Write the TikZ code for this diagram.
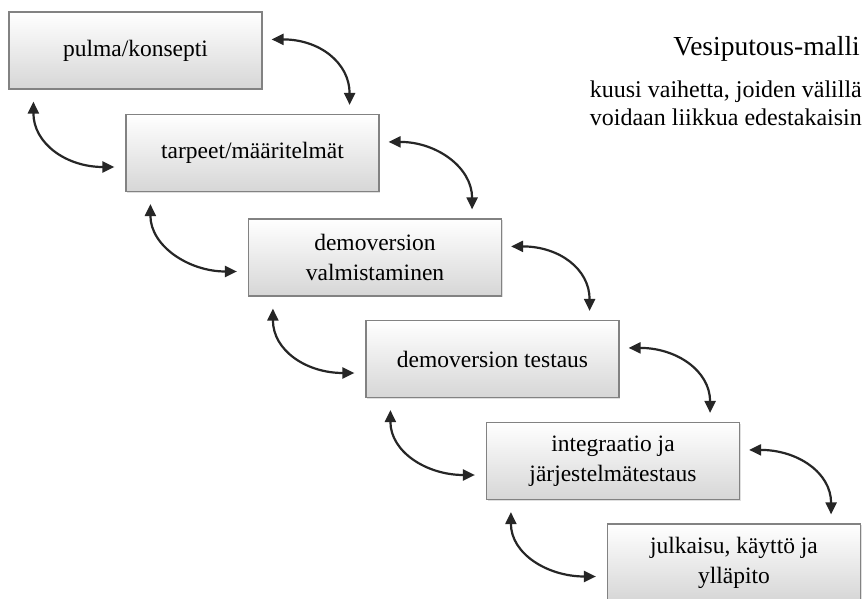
\documentclass[tikz,border=0pt]{standalone}
\usepackage{fontspec}
\setmainfont{Liberation Serif}
\usetikzlibrary{arrows.meta,shadows,calc}
\begin{document}
\begin{tikzpicture}[x=1pt,y=-1pt,
  stepbox/.style={draw={rgb,255:red,130;green,130;blue,130}, line width=1.2pt,
    top color=white, bottom color=black!16, minimum width=253pt, minimum height=77pt,
    inner sep=0pt, align=center, font=\fontsize{23.5}{30}\selectfont,
    drop shadow={shadow xshift=1.2pt, shadow yshift=-1.2pt, opacity=0.25}},
  conn/.style={{Triangle[length=12pt,width=11pt]}-{Triangle[length=12pt,width=11pt]},
    line width=2.2pt, draw=black!85},
  txt/.style={anchor=base east, inner sep=0pt, font=\fontsize{24}{26}\selectfont}]
\fill[white] (0,0) rectangle (865,599);
\useasboundingbox (0,0) rectangle (865,599);

\node[stepbox] (b1) at (135.5,50.5) {pulma/konsepti};
\node[stepbox] (b2) at (252.5,153) {tarpeet/määritelmät};
\node[stepbox] (b3) at (375,257.5) {demoversion\\valmistaminen};
\node[stepbox] (b4) at (492.5,359) {demoversion testaus};
\node[stepbox] (b5) at (613,461) {integraatio ja\\järjestelmätestaus};
\node[stepbox] (b6) at (734,562.5) {julkaisu, käyttö ja\\ylläpito};

\node[anchor=base east, inner sep=0pt, font=\fontsize{27.5}{32}\selectfont] (title) at (860,56) {Vesiputous-malli};
\node[txt] (sub1) at (862,98) {kuusi vaihetta, joiden välillä};
\node[txt] (sub2) at (862,126) {voidaan liikkua edestakaisin};

\foreach \i/\j in {1/2,2/3,3/4,4/5,5/6}{
  \coordinate (ra\i) at ([shift={(9,28)}]b\i.north east);
  \coordinate (rb\i) at ([shift={(-30,-9)}]b\j.north east);
  \coordinate (la\i) at ([shift={(25,12)}]b\i.south west);
  \coordinate (lb\i) at ([shift={(-11,14)}]b\j.west);
  \draw[conn] (ra\i) .. controls +(48,0) and +(0,-42) .. (rb\i);
  \draw[conn] (la\i) .. controls +(0,42) and +(-48,0) .. (lb\i);
}
\end{tikzpicture}
\end{document}
